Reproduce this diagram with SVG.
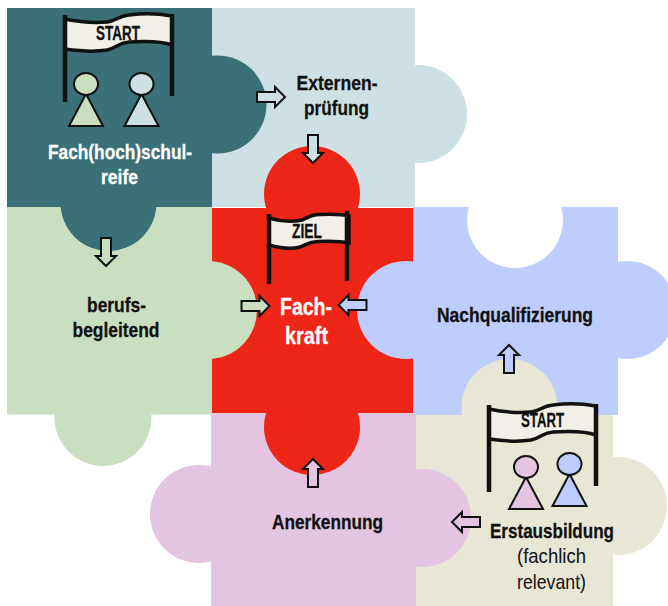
<svg xmlns="http://www.w3.org/2000/svg" width="668" height="606" viewBox="0 0 668 606">
<defs>
<style>
text{font-family:"Liberation Sans Narrow","Liberation Sans",Arial,sans-serif;font-weight:700;text-anchor:middle;fill:#111;stroke:#111;stroke-width:.3;font-size:21px}
.w{fill:#fff;stroke:#fff}
.r{font-weight:400;stroke-width:0}
.ban{fill:#f1efe8;stroke:#111;stroke-width:3.500}
.pole{stroke:#111;stroke-width:4.500;fill:none}
.fig{stroke:#111;stroke-width:2;stroke-linejoin:miter}
.ar{stroke:#111;stroke-width:2}
</style>
<g id="flag">
<path class="ban" d="M0 4C14 7 30 8 42 7C52 6 52 1 64 0C80 -2 96 -1 107 1V30C96 26 80 26 64 27C52 28 52 33 42 35C30 37 14 36 0 34Z"/>
<path class="pole" d="M0 0V87M107 -1V81"/>
</g>
<g id="man"><path d="M0 0L-17 32H17Z"/><ellipse cx="0" cy="-10" rx="12" ry="11"/></g>
<path id="arrow" class="ar" d="M-14 -5H4V-10L14 0L4 10V5H-14Z"/>
</defs>
<rect width="668" height="606" fill="#fff"/>
<g id="piece-berufsbegleitend"><path fill="#c9dfbf" d="M7 207H212V414.500H7Z"/><circle cx="103" cy="417.500" r="48.500" fill="#c9dfbf"/></g>
<g id="piece-externen"><path fill="#cde1e4" d="M212 8H415V207H212Z"/><circle cx="418" cy="114" r="49" fill="#cde1e4"/></g>
<g id="piece-nachqualifizierung"><path fill="#bdcdfd" d="M413 207H468.800A48 48 0 1 0 561.200 207H618V415H413Z"/><circle cx="627" cy="310" r="49" fill="#bdcdfd"/></g>
<g id="piece-erstausbildung"><path fill="#e8e7d6" d="M416 415H613V606H416Z"/><circle cx="509.500" cy="407" r="48" fill="#e8e7d6"/><circle cx="618" cy="506" r="49" fill="#e8e7d6"/></g>
<g id="piece-anerkennung"><path fill="#e3c4e1" d="M211 413H416V606H211Z"/><circle cx="199" cy="514" r="49" fill="#e3c4e1"/><circle cx="422" cy="518" r="49" fill="#e3c4e1"/></g>
<g id="piece-fachkraft"><path fill="#ee2617" d="M212 208H413V413H212Z"/><circle cx="312" cy="194" r="48" fill="#ee2617"/><circle cx="312" cy="427" r="48" fill="#ee2617"/>
<circle cx="208" cy="310" r="49" fill="#c9dfbf"/><circle cx="406" cy="310" r="49" fill="#bdcdfd"/></g>
<g id="piece-fachhochschulreife"><path fill="#3a7077" d="M7 8H212V207H7Z"/><circle cx="217.500" cy="104.500" r="49" fill="#3a7077"/><circle cx="108.500" cy="203" r="48" fill="#3a7077"/></g>
<g id="connectors">
<use href="#arrow" transform="translate(271 97)" fill="#cde1e4"/>
<use href="#arrow" transform="translate(313 149) rotate(90)" fill="#cde1e4"/>
<use href="#arrow" transform="translate(106 252) rotate(90)" fill="#c9dfbf"/>
<use href="#arrow" transform="translate(255.500 306)" fill="#c9dfbf"/>
<use href="#arrow" transform="translate(352.500 305) rotate(180)" fill="#bdcdfd"/>
<use href="#arrow" transform="translate(509 359) rotate(-90)" fill="#bdcdfd"/>
<use href="#arrow" transform="translate(313 473) rotate(-90)" fill="#e3c4e1"/>
<use href="#arrow" transform="translate(466 522) rotate(180)" fill="#e3c4e1"/>
</g>
<g id="node-start-1">
<use href="#flag" transform="translate(65 15)"/>
<text x="118" y="40" textLength="44" lengthAdjust="spacingAndGlyphs">START</text>
<use href="#man" transform="translate(86 94)" fill="#c9dfbf" class="fig"/>
<use href="#man" transform="translate(141.500 94)" fill="#cde1e4" class="fig"/>
<text class="w" x="120" y="159" textLength="144" lengthAdjust="spacingAndGlyphs">Fach(hoch)schul-</text>
<text class="w" x="119.500" y="184" textLength="37" lengthAdjust="spacingAndGlyphs">reife</text>
</g>
<g id="node-externen">
<text x="337" y="90" textLength="81" lengthAdjust="spacingAndGlyphs">Externen-</text>
<text x="336.500" y="115" textLength="65" lengthAdjust="spacingAndGlyphs">prüfung</text>
</g>
<g id="node-ziel">
<path class="ban" d="M269 218C282 222 292 222 302 220C308 218 308 215 320 214.500C332 214 342 214 349 216V243C340 241 330 241 318 241.500C308 242 306 245 300 247C290 250 280 248 269 245Z"/>
<path class="pole" d="M269 214V284M347 211V281"/>
<text x="307" y="238" textLength="30" lengthAdjust="spacingAndGlyphs">ZIEL</text>
<text class="w" x="306" y="315" style="font-size:24px" textLength="52" lengthAdjust="spacingAndGlyphs">Fach-</text>
<text class="w" x="306.500" y="344" style="font-size:24px" textLength="43" lengthAdjust="spacingAndGlyphs">kraft</text>
</g>
<g id="node-berufs">
<text x="116.500" y="312" textLength="59" lengthAdjust="spacingAndGlyphs">berufs-</text>
<text x="116" y="337" textLength="87" lengthAdjust="spacingAndGlyphs">begleitend</text>
</g>
<g id="node-nach"><text x="515" y="322" textLength="156" lengthAdjust="spacingAndGlyphs">Nachqualifizierung</text></g>
<g id="node-anerkennung"><text x="327.500" y="529" textLength="111" lengthAdjust="spacingAndGlyphs">Anerkennung</text></g>
<g id="node-start-2">
<use href="#flag" transform="translate(489 405)"/>
<text x="542.500" y="427" textLength="43" lengthAdjust="spacingAndGlyphs">START</text>
<use href="#man" transform="translate(526 477)" fill="#e3c4e1" class="fig"/>
<use href="#man" transform="translate(569.500 474)" fill="#bdcdfd" class="fig"/>
<text x="552" y="538" textLength="124" lengthAdjust="spacingAndGlyphs">Erstausbildung</text>
<text class="r" x="551.500" y="563" textLength="69" lengthAdjust="spacingAndGlyphs">(fachlich</text>
<text class="r" x="551.500" y="589" textLength="69" lengthAdjust="spacingAndGlyphs">relevant)</text>
</g>
</svg>
